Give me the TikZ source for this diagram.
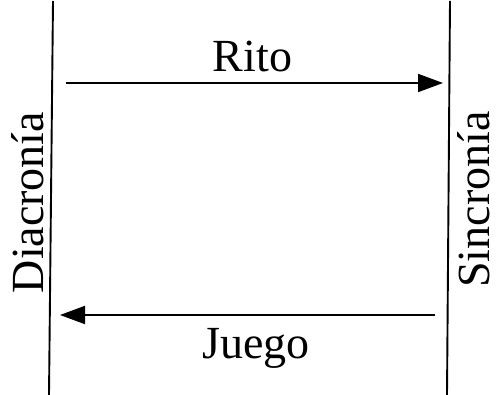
\documentclass[tikz,border=0pt]{standalone}
\usepackage{fontspec}
\setmainfont{Liberation Serif}
\usetikzlibrary{arrows.meta}

\tikzset{
  axisline/.style={line width=1.9pt, black},
  flow/.style={line width=1.9pt, -{Triangle[length=25pt, width=18pt]}},
  biglabel/.style={inner sep=0pt, font=\fontsize{46}{50}\selectfont},
}

\begin{document}
\begin{tikzpicture}[x=1pt, y=-1pt]
  \useasboundingbox (0,0) rectangle (500,395);

  % the two vertical axes
  \coordinate (lt) at (53,1);
  \coordinate (lb) at (49,395);
  \coordinate (rt) at (450,1);
  \coordinate (rb) at (447,395);
  \draw[axisline] (lt) -- (lb);
  \draw[axisline] (rt) -- (rb);

  % axis labels, set sideways
  \node[biglabel, rotate=90, anchor=base] (dia) at (43,202.5) {Diacronía};
  \node[biglabel, rotate=90, anchor=base] (sin) at (489,199.5) {Sincronía};

  % upper arrow: Rito
  \coordinate (ritoA) at (66,83);
  \coordinate (ritoB) at (443,83);
  \draw[flow] (ritoA) -- (ritoB);
  \node[biglabel, anchor=base] (rito) at (252.5,72) {Rito};

  % lower arrow: Juego
  \coordinate (juegoA) at (435,315);
  \coordinate (juegoB) at (60,315);
  \draw[flow] (juegoA) -- (juegoB);
  \node[biglabel, anchor=base] (juego) at (256,358) {Juego};
\end{tikzpicture}
\end{document}
